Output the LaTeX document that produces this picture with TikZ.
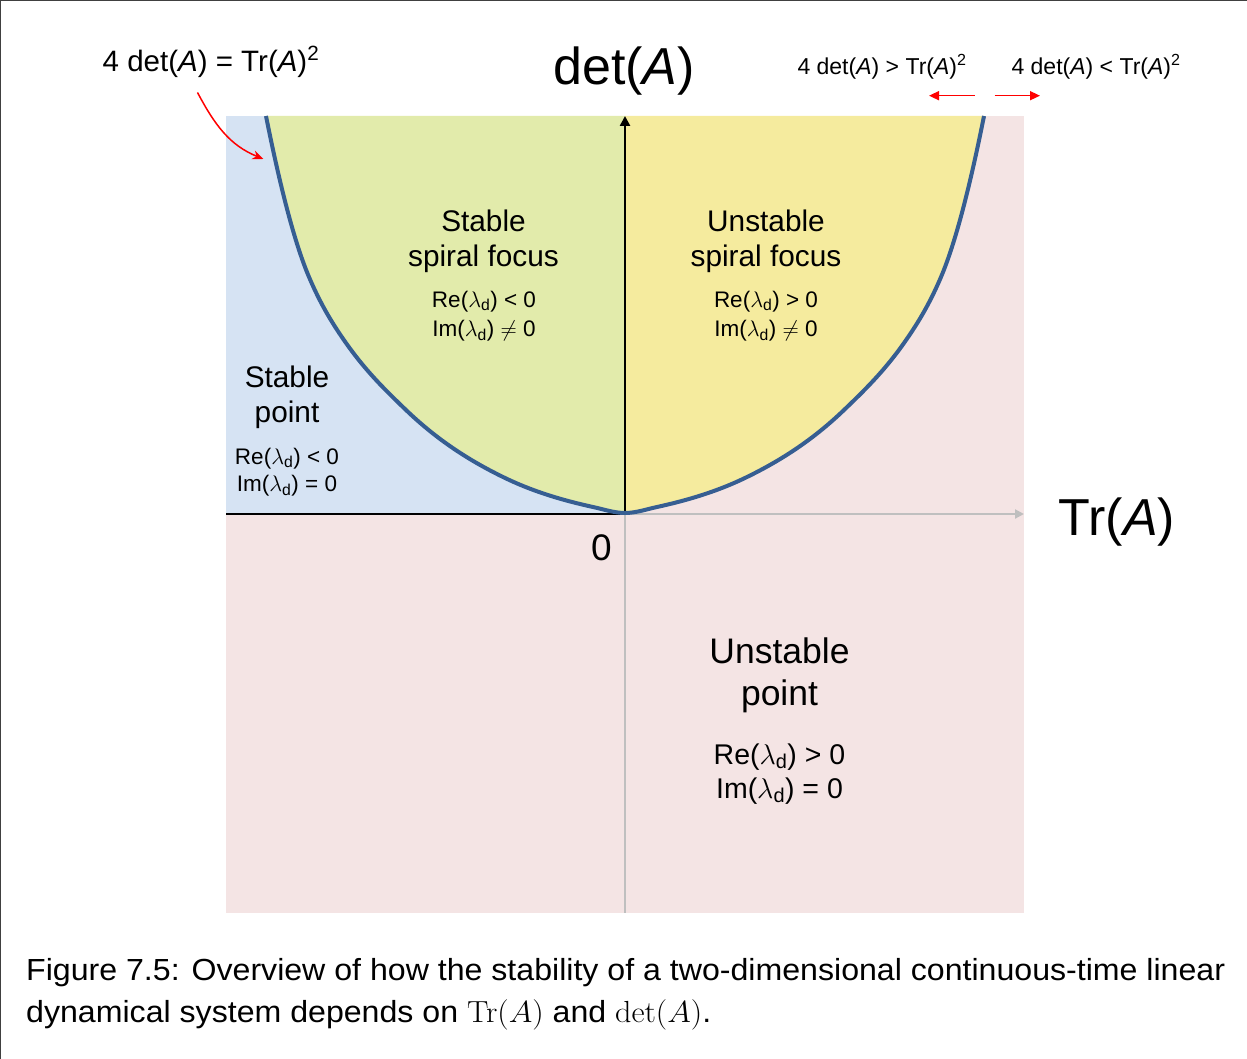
\RequirePackage{fix-cm}
\documentclass[tikz,border=0pt]{standalone}
\usepackage[no-math]{fontspec}
\setmainfont{Liberation Sans}
\usetikzlibrary{arrows.meta}
\definecolor{pinkbg}{RGB}{244,228,228}
\definecolor{bluebg}{RGB}{214,227,243}
\definecolor{greenbg}{RGB}{226,235,171}
\definecolor{yellowbg}{RGB}{245,235,158}
\definecolor{curveblue}{RGB}{54,94,146}
\definecolor{axisgray}{RGB}{191,191,191}
\newcommand{\lamd}{$\lambda$\textsubscript{d}}
\newcommand{\mA}{\textit{A}}
\begin{document}
\begin{tikzpicture}[x=1pt,y=-1pt,
  txt/.style={inner sep=0pt, anchor=base},
  big/.style={txt, font=\fontsize{52}{62}\selectfont},
  region/.style={txt, font=\fontsize{29.8}{35}\selectfont},
  cond/.style={txt, font=\fontsize{22.5}{26}\selectfont},
  regionL/.style={txt, font=\fontsize{35.5}{42}\selectfont},
  condL/.style={txt, font=\fontsize{28.5}{32}\selectfont},
  ineq/.style={txt, font=\fontsize{23}{26}\selectfont},
  redarr/.style={red, line width=1.5pt, -{Triangle[length=10pt,width=9pt]}},
  caption/.style={inner sep=0pt, anchor=base west, font=\fontsize{30.5}{36}\selectfont}]
\useasboundingbox (0,0) rectangle (1247,1059);
% frame
\draw[line width=1.4pt, black!75] (1247,0.7) -- (0.7,0.7) -- (0.7,1059);
% backgrounds
\fill[pinkbg] (226,116) rectangle (1024,913);
\fill[bluebg] (226,116) rectangle (625,514);
\begin{scope}
  \clip (226,110) rectangle (625,514);
  \fill[greenbg] (266,116) .. controls (280.3,187.7) and (294.7,243.3) .. (309,277)
   .. controls (321.3,306) and (333.7,325.5) .. (346,343)
   .. controls (366,371.4) and (386,390.8) .. (406,410)
   .. controls (438.3,441) and (470.7,461.2) .. (503,477)
   .. controls (533,491.7) and (563,500.4) .. (593,507)
   .. controls (603.7,509.3) and (614.3,513) .. (625,513)
   .. controls (635.7,513) and (646.3,509.3) .. (657,507)
   .. controls (687,500.4) and (717,491.7) .. (747,477)
   .. controls (779.3,461.2) and (811.7,441) .. (844,410)
   .. controls (864,390.8) and (884,371.4) .. (904,343)
   .. controls (916.3,325.5) and (928.7,306) .. (941,277)
   .. controls (955.3,243.3) and (969.7,187.7) .. (984,116) -- cycle;
\end{scope}
\begin{scope}
  \clip (625,110) rectangle (1024,514);
  \fill[yellowbg] (266,116) .. controls (280.3,187.7) and (294.7,243.3) .. (309,277)
   .. controls (321.3,306) and (333.7,325.5) .. (346,343)
   .. controls (366,371.4) and (386,390.8) .. (406,410)
   .. controls (438.3,441) and (470.7,461.2) .. (503,477)
   .. controls (533,491.7) and (563,500.4) .. (593,507)
   .. controls (603.7,509.3) and (614.3,513) .. (625,513)
   .. controls (635.7,513) and (646.3,509.3) .. (657,507)
   .. controls (687,500.4) and (717,491.7) .. (747,477)
   .. controls (779.3,461.2) and (811.7,441) .. (844,410)
   .. controls (864,390.8) and (884,371.4) .. (904,343)
   .. controls (916.3,325.5) and (928.7,306) .. (941,277)
   .. controls (955.3,243.3) and (969.7,187.7) .. (984,116) -- cycle;
\end{scope}
% axes
\coordinate (O) at (625,514);
\coordinate (xL) at (226,514);
\coordinate (xR) at (1024,514);
\coordinate (yT) at (625,116);
\coordinate (yB) at (625,913);
\draw[axisgray, line width=2pt, -{Triangle[length=9pt,width=9pt]}] (O) -- (xR);
\draw[axisgray, line width=2.5pt] (O) -- (yB);
\draw[black, line width=2.5pt] (xL) -- (O);
\draw[black, line width=2.5pt, -{Triangle[length=10pt,width=10pt]}] (O) -- (yT);
% boundary curve
\draw[curveblue, line width=4pt, line cap=butt] (266,116) .. controls (280.3,187.7) and (294.7,243.3) .. (309,277)
   .. controls (321.3,306) and (333.7,325.5) .. (346,343)
   .. controls (366,371.4) and (386,390.8) .. (406,410)
   .. controls (438.3,441) and (470.7,461.2) .. (503,477)
   .. controls (533,491.7) and (563,500.4) .. (593,507)
   .. controls (603.7,509.3) and (614.3,513) .. (625,513)
   .. controls (635.7,513) and (646.3,509.3) .. (657,507)
   .. controls (687,500.4) and (717,491.7) .. (747,477)
   .. controls (779.3,461.2) and (811.7,441) .. (844,410)
   .. controls (864,390.8) and (884,371.4) .. (904,343)
   .. controls (916.3,325.5) and (928.7,306) .. (941,277)
   .. controls (955.3,243.3) and (969.7,187.7) .. (984,116);
% axis labels
\node[big] (detA) at (624,85) {det(\mA)};
\node[big] (trA) at (1117,535) {Tr(\mA)};
\node[txt, font=\fontsize{37}{44}\selectfont] (zero) at (601.5,560) {0};
% boundary labels
\node[txt, font=\fontsize{29.5}{34}\selectfont] (eqlbl) at (211,71.5) {4 det(\mA) = Tr(\mA)\textsuperscript{2}};
\node[ineq] (gtlbl) at (882,74.3) {4 det(\mA) > Tr(\mA)\textsuperscript{2}};
\node[ineq] (ltlbl) at (1096,74.3) {4 det(\mA) < Tr(\mA)\textsuperscript{2}};
\coordinate (c1s) at (197.5,92.5);
\coordinate (c1e) at (263.5,159);
\draw[red, line width=1.5pt, -{Stealth[length=11pt,width=9pt]}] (c1s) to[out=-62, in=158] (c1e);
\coordinate (a1s) at (974.5,95.7);
\coordinate (a1e) at (929,95.7);
\coordinate (a2s) at (994.5,95.7);
\coordinate (a2e) at (1040,95.7);
\draw[redarr] (a1s) -- (a1e);
\draw[redarr] (a2s) -- (a2e);
% stable spiral focus
\node[region] (ssf1) at (483.5,232) {Stable};
\node[region] (ssf2) at (483.5,266) {spiral focus};
\node[cond] (ssf3) at (484,307.3) {Re(\lamd) < 0};
\node[cond] (ssf4) at (484,336.7) {Im(\lamd) $\neq$ 0};
% unstable spiral focus
\node[region] (usf1) at (766,232) {Unstable};
\node[region] (usf2) at (766,266) {spiral focus};
\node[cond] (usf3) at (766,307.3) {Re(\lamd) > 0};
\node[cond] (usf4) at (766,336.7) {Im(\lamd) $\neq$ 0};
% stable point
\node[region] (sp1) at (287,387.5) {Stable};
\node[region] (sp2) at (287,422) {point};
\node[cond] (sp3) at (287,464) {Re(\lamd) < 0};
\node[cond] (sp4) at (287,491.7) {Im(\lamd) = 0};
% unstable point
\node[regionL] (up1) at (779.5,663) {Unstable};
\node[regionL] (up2) at (779.5,705) {point};
\node[condL] (up3) at (779.5,764) {Re(\lamd) > 0};
\node[condL] (up4) at (779.5,798.3) {Im(\lamd) = 0};
% caption
\node[caption] (cap1) at (26,980.5) {\scalebox{1.053}[1]{Figure 7.5: Overview of how the stability of a two-dimensional continuous-time linear}};
\node[caption] (cap2) at (26,1022.5) {\scalebox{1.053}[1]{dynamical system depends on $\mathrm{Tr}(A)$ and $\det(A)$.}};
\end{tikzpicture}
\end{document}
